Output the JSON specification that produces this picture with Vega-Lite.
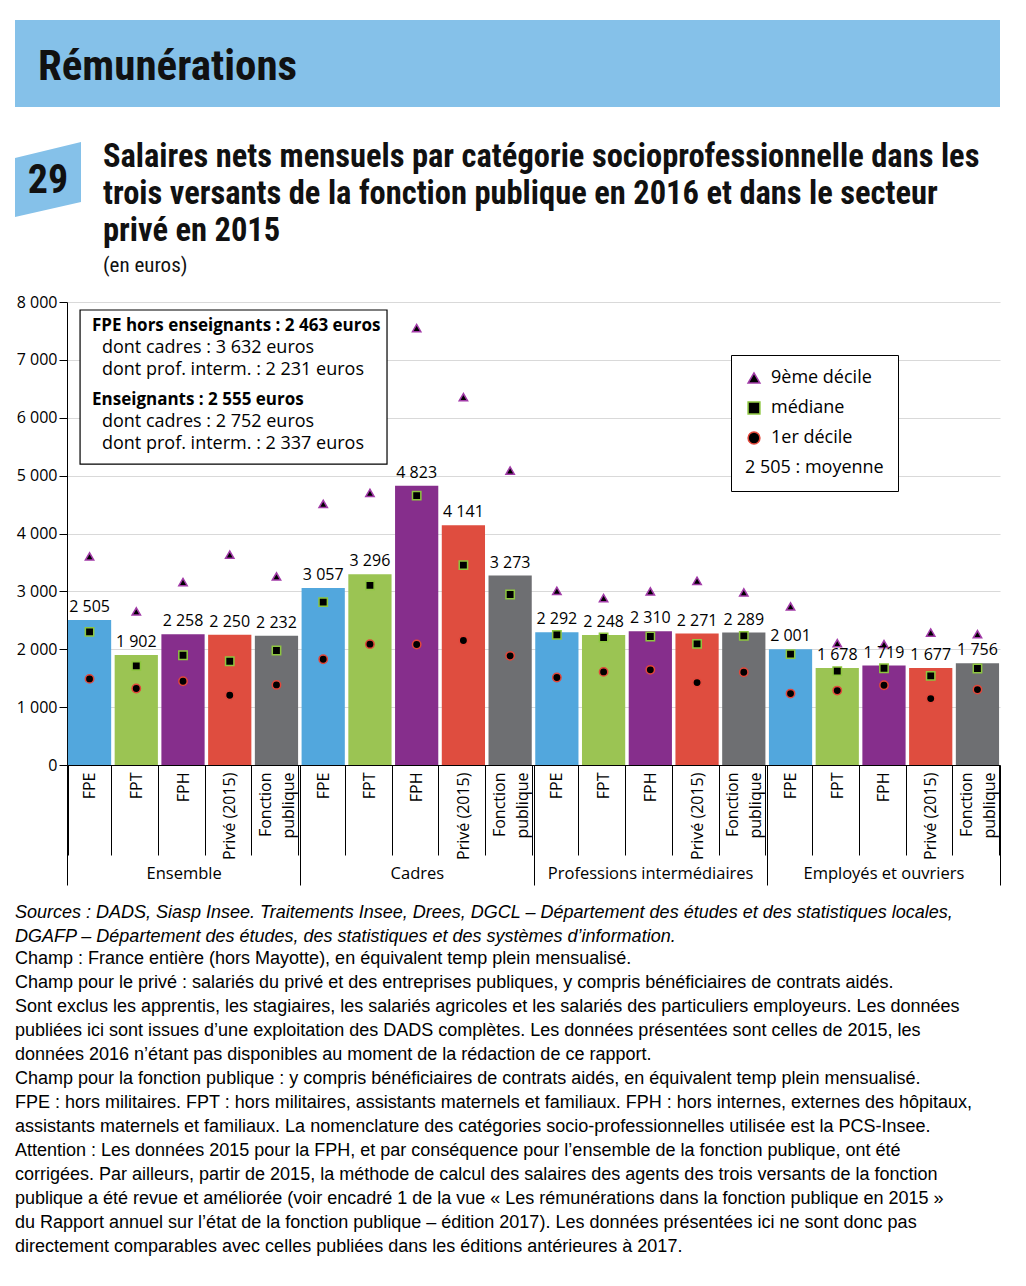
{
  "$schema": "https://vega.github.io/schema/vega-lite/v6.json",
  "background": "white",
  "padding": {"left": 15, "top": 20, "right": 10, "bottom": 5},
  "spacing": 18,
  "config": {
    "font": "Open Sans",
    "view": {"stroke": null},
    "locale": {"number": {"decimal": ",", "thousands": " ", "grouping": [3], "currency": ["", " €"]}},
    "axis": {"labelColor": "black", "labelFontSize": 16, "labelFont": "Open Sans"}
  },
  "datasets": {
    "main": [
      {"id": "Ensemble|FPE", "grp": "Ensemble", "sub": "FPE", "mean": 2505, "d9": 3604, "med": 2301, "d1": 1488},
      {"id": "Ensemble|FPT", "grp": "Ensemble", "sub": "FPT", "mean": 1902, "d9": 2653, "med": 1713, "d1": 1321},
      {"id": "Ensemble|FPH", "grp": "Ensemble", "sub": "FPH", "mean": 2258, "d9": 3160, "med": 1897, "d1": 1447},
      {"id": "Ensemble|Privé (2015)", "grp": "Ensemble", "sub": "Privé (2015)", "mean": 2250, "d9": 3633, "med": 1793, "d1": 1205},
      {"id": "Ensemble|Fonction publique", "grp": "Ensemble", "sub": "Fonction publique", "mean": 2232, "d9": 3258, "med": 1978, "d1": 1384},
      {"id": "Cadres|FPE", "grp": "Cadres", "sub": "FPE", "mean": 3057, "d9": 4510, "med": 2814, "d1": 1828},
      {"id": "Cadres|FPT", "grp": "Cadres", "sub": "FPT", "mean": 3296, "d9": 4700, "med": 3103, "d1": 2088},
      {"id": "Cadres|FPH", "grp": "Cadres", "sub": "FPH", "mean": 4823, "d9": 7549, "med": 4654, "d1": 2082},
      {"id": "Cadres|Privé (2015)", "grp": "Cadres", "sub": "Privé (2015)", "mean": 4141, "d9": 6356, "med": 3454, "d1": 2151},
      {"id": "Cadres|Fonction publique", "grp": "Cadres", "sub": "Fonction publique", "mean": 3273, "d9": 5087, "med": 2947, "d1": 1886},
      {"id": "Professions intermédiaires|FPE", "grp": "Professions intermédiaires", "sub": "FPE", "mean": 2292, "d9": 3010, "med": 2249, "d1": 1511},
      {"id": "Professions intermédiaires|FPT", "grp": "Professions intermédiaires", "sub": "FPT", "mean": 2248, "d9": 2884, "med": 2203, "d1": 1609},
      {"id": "Professions intermédiaires|FPH", "grp": "Professions intermédiaires", "sub": "FPH", "mean": 2310, "d9": 2999, "med": 2220, "d1": 1644},
      {"id": "Professions intermédiaires|Privé (2015)", "grp": "Professions intermédiaires", "sub": "Privé (2015)", "mean": 2271, "d9": 3183, "med": 2093, "d1": 1424},
      {"id": "Professions intermédiaires|Fonction publique", "grp": "Professions intermédiaires", "sub": "Fonction publique", "mean": 2289, "d9": 2982, "med": 2232, "d1": 1603},
      {"id": "Employés et ouvriers|FPE", "grp": "Employés et ouvriers", "sub": "FPE", "mean": 2001, "d9": 2739, "med": 1915, "d1": 1234},
      {"id": "Employés et ouvriers|FPT", "grp": "Employés et ouvriers", "sub": "FPT", "mean": 1678, "d9": 2105, "med": 1621, "d1": 1286},
      {"id": "Employés et ouvriers|FPH", "grp": "Employés et ouvriers", "sub": "FPH", "mean": 1719, "d9": 2088, "med": 1672, "d1": 1378},
      {"id": "Employés et ouvriers|Privé (2015)", "grp": "Employés et ouvriers", "sub": "Privé (2015)", "mean": 1677, "d9": 2289, "med": 1540, "d1": 1148},
      {"id": "Employés et ouvriers|Fonction publique", "grp": "Employés et ouvriers", "sub": "Fonction publique", "mean": 1756, "d9": 2261, "med": 1667, "d1": 1303}
    ]
  },
  "vconcat": [
    {
      "width": 933,
      "height": 255,
      "data": {"values": [{}]},
      "layer": [
        {"mark": {"type": "rect", "x": -52, "x2": 933, "y": 0, "y2": 87, "color": "#85C1E9"}, "encoding": {}},
        {"mark": {"type": "text", "text": "Rémunérations", "x": -29, "y": 47, "align": "left", "baseline": "middle", "font": "Liberation Sans Narrow, Roboto Condensed, DejaVu Sans Condensed, Liberation Sans", "fontWeight": "bold", "fontSize": 43, "color": "#111111"}, "encoding": {}},
        {"mark": {"type": "point", "shape": "M-1,-0.65L1,-1.14L1,0.68L-1,1.14Z", "filled": true, "opacity": 1, "color": "#85C1E9", "size": 4356, "x": -19, "y": 159.5}, "encoding": {}},
        {"mark": {"type": "text", "text": "29", "x": -19, "y": 161, "align": "center", "baseline": "middle", "font": "Liberation Sans Narrow, Roboto Condensed, DejaVu Sans Condensed, Liberation Sans", "fontWeight": "bold", "fontSize": 40, "color": "#111111"}, "encoding": {}},
        {"mark": {"type": "text", "text": ["Salaires nets mensuels par catégorie socioprofessionnelle dans les", "trois versants de la fonction publique en 2016 et dans le secteur", "privé en 2015"], "x": 36, "y": 147, "align": "left", "baseline": "alphabetic", "font": "Liberation Sans Narrow, Roboto Condensed, DejaVu Sans Condensed, Liberation Sans", "fontWeight": "bold", "fontSize": 32.5, "lineHeight": 37, "color": "#111111"}, "encoding": {}},
        {"mark": {"type": "text", "text": "(en euros)", "x": 36, "y": 252, "align": "left", "baseline": "alphabetic", "font": "Liberation Sans Narrow, Roboto Condensed, DejaVu Sans Condensed, Liberation Sans", "fontSize": 21, "color": "#111111"}, "encoding": {}}
      ]
    },
    {
      "width": 933,
      "height": 463,
      "resolve": {"scale": {"x": "independent"}},
      "layer": [
        {
          "data": {"name": "main"},
          "layer": [
            {
              "mark": {"type": "bar"},
              "encoding": {
                "x": {"field": "id", "type": "nominal", "sort": null, "title": null,
                  "scale": {"paddingInner": 0.075, "paddingOuter": 0.02},
                  "axis": {"orient": "bottom", "labelExpr": "split(datum.label, '|')[1] == 'Fonction publique' ? ['Fonction', 'publique'] : split(datum.label, '|')[1]", "labelAngle": 270, "labelAlign": "right", "labelBaseline": "middle", "labelFontSize": 16, "labelLineHeight": 23, "labelOffset": {"condition": {"test": "indexof(datum.label, 'Fonction publique') >= 0", "value": -11}, "value": 0}, "tickBand": "extent", "tickSize": 90, "tickColor": "black", "labelPadding": -83, "domainColor": "black", "labelColor": "black", "labelOverlap": false}},
                "y": {"field": "mean", "type": "quantitative", "title": null,
                  "scale": {"domain": [0, 8000], "nice": false},
                  "axis": {"values": [0, 1000, 2000, 3000, 4000, 5000, 6000, 7000, 8000], "format": ",d", "tickSize": 8, "tickColor": "black", "domainColor": "black", "gridColor": "#d9d9d9", "labelPadding": 2}},
                "color": {"field": "sub", "type": "nominal", "legend": null,
                  "scale": {"domain": ["FPE", "FPT", "FPH", "Privé (2015)", "Fonction publique"], "range": ["#52A7DD", "#9BC453", "#862E8C", "#DF4D3F", "#6E6F72"]}}
              }
            },
            {
              "transform": [{"fold": ["d9", "med", "d1"], "as": ["stat", "value"]}],
              "mark": {"type": "point", "filled": true, "fill": "black", "strokeWidth": 1.5, "opacity": 1, "size": 70},
              "encoding": {
                "x": {"field": "id", "type": "nominal", "sort": null},
                "y": {"field": "value", "type": "quantitative"},
                "shape": {"field": "stat", "type": "nominal", "title": "2 505 : moyenne",
                  "scale": {"domain": ["d9", "med", "d1"], "range": ["triangle-up", "square", "circle"]},
                  "legend": {"orient": "none", "legendX": 664, "legendY": 335, "titleOrient": "bottom", "titleFontWeight": "normal", "titleFontSize": 18, "titleColor": "black", "titleFont": "Open Sans", "titlePadding": 12, "labelFontSize": 18, "labelColor": "black", "labelFont": "Open Sans", "labelExpr": "datum.label == 'd9' ? '9ème décile' : datum.label == 'med' ? 'médiane' : '1er décile'", "symbolSize": 140, "symbolFillColor": "black", "symbolStrokeWidth": 1.5, "rowPadding": 12, "padding": 14, "strokeColor": "black", "fillColor": "white", "labelOffset": 8}},
                "stroke": {"field": "stat", "type": "nominal", "title": "2 505 : moyenne",
                  "scale": {"domain": ["d9", "med", "d1"], "range": ["#A23BA8", "#8DC63F", "#E2473A"]},
                  "legend": {"orient": "none", "legendX": 664, "legendY": 335, "titleOrient": "bottom", "titleFontWeight": "normal", "titleFontSize": 18, "titleColor": "black", "titleFont": "Open Sans", "titlePadding": 12, "labelFontSize": 18, "labelColor": "black", "labelFont": "Open Sans", "labelExpr": "datum.label == 'd9' ? '9ème décile' : datum.label == 'med' ? 'médiane' : '1er décile'", "symbolSize": 140, "symbolFillColor": "black", "symbolStrokeWidth": 1.5, "rowPadding": 12, "padding": 14, "strokeColor": "black", "fillColor": "white", "labelOffset": 8}}
              }
            },
            {
              "mark": {"type": "text", "baseline": "middle", "dy": -13, "fontSize": 16, "color": "black"},
              "encoding": {
                "x": {"field": "id", "type": "nominal", "sort": null},
                "y": {"field": "mean", "type": "quantitative"},
                "text": {"field": "mean", "type": "quantitative", "format": ",d"}
              }
            }
          ]
        },
        {
          "data": {"values": [{}]},
          "layer": [
            {
              "mark": {"type": "rect", "fill": "white", "stroke": "black", "strokeWidth": 1.2},
              "encoding": {
                "x": {"datum": 0.28, "type": "quantitative", "title": null,
                  "scale": {"domain": [0, 20], "nice": false, "zero": false},
                  "axis": {"orient": "bottom", "values": [0, 2.5, 5, 7.5, 10, 12.5, 15, 17.5, 20], "labelExpr": "datum.value == 2.5 ? 'Ensemble' : datum.value == 7.5 ? 'Cadres' : datum.value == 12.5 ? 'Professions intermédiaires' : datum.value == 17.5 ? 'Employés et ouvriers' : ''", "tickSize": 120, "tickColor": "black", "tickOpacity": {"condition": {"test": "datum.value % 5 === 0", "value": 1}, "value": 0}, "domain": false, "grid": false, "labelPadding": -20, "labelFontSize": 16.5, "labelColor": "black", "labelFlush": false, "labelOverlap": false, "labelLimit": 400}},
                "x2": {"datum": 6.86},
                "y": {"datum": 7862, "type": "quantitative"},
                "y2": {"datum": 5200}
              }
            },
            {
              "mark": {"type": "text", "text": "FPE hors enseignants : 2 463 euros", "align": "left", "baseline": "middle", "fontWeight": "bold", "fontSize": 17, "color": "black"},
              "encoding": {"x": {"datum": 0.536, "type": "quantitative"}, "y": {"datum": 7585, "type": "quantitative"}}
            },
            {
              "mark": {"type": "text", "text": "dont cadres : 3 632 euros", "align": "left", "baseline": "middle", "fontSize": 18, "color": "black"},
              "encoding": {"x": {"datum": 0.75, "type": "quantitative"}, "y": {"datum": 7205, "type": "quantitative"}}
            },
            {
              "mark": {"type": "text", "text": "dont prof. interm. : 2 231 euros", "align": "left", "baseline": "middle", "fontSize": 18, "color": "black"},
              "encoding": {"x": {"datum": 0.75, "type": "quantitative"}, "y": {"datum": 6825, "type": "quantitative"}}
            },
            {
              "mark": {"type": "text", "text": "Enseignants : 2 555 euros", "align": "left", "baseline": "middle", "fontWeight": "bold", "fontSize": 17, "color": "black"},
              "encoding": {"x": {"datum": 0.536, "type": "quantitative"}, "y": {"datum": 6307, "type": "quantitative"}}
            },
            {
              "mark": {"type": "text", "text": "dont cadres : 2 752 euros", "align": "left", "baseline": "middle", "fontSize": 18, "color": "black"},
              "encoding": {"x": {"datum": 0.75, "type": "quantitative"}, "y": {"datum": 5927, "type": "quantitative"}}
            },
            {
              "mark": {"type": "text", "text": "dont prof. interm. : 2 337 euros", "align": "left", "baseline": "middle", "fontSize": 18, "color": "black"},
              "encoding": {"x": {"datum": 0.75, "type": "quantitative"}, "y": {"datum": 5547, "type": "quantitative"}}
            }
          ]
        }
      ]
    },
    {
      "width": 933,
      "height": 1,
      "data": {"values": []},
      "mark": {"type": "point"},
      "encoding": {},
      "title": {
        "text": ["Sources : DADS, Siasp Insee. Traitements Insee, Drees,  DGCL – Département des études et des statistiques locales,", "DGAFP – Département des études, des statistiques et des systèmes d’information."],
        "subtitle": [
          "Champ : France entière (hors Mayotte), en équivalent temp plein mensualisé.",
          "Champ pour le privé : salariés du privé et des entreprises publiques, y compris bénéficiaires de contrats aidés.",
          "Sont exclus les apprentis, les stagiaires, les salariés agricoles et les salariés des particuliers employeurs. Les données",
          "publiées ici sont issues d’une exploitation des DADS complètes. Les données présentées sont celles de 2015, les",
          "données 2016 n’étant pas disponibles au moment de la rédaction de ce rapport.",
          "Champ pour la fonction publique : y compris bénéficiaires de contrats aidés, en équivalent temp plein mensualisé.",
          "FPE : hors militaires. FPT : hors militaires, assistants maternels et familiaux. FPH : hors internes, externes des hôpitaux,",
          "assistants maternels et familiaux. La nomenclature des catégories socio-professionnelles utilisée est la PCS-Insee.",
          "Attention : Les données 2015 pour la FPH, et par conséquence pour l’ensemble de la fonction publique, ont été",
          "corrigées. Par ailleurs, partir de 2015, la méthode de calcul des salaires des agents des trois versants de la fonction",
          "publique a été revue et améliorée (voir encadré 1 de la vue « Les rémunérations dans la fonction publique en 2015 »",
          "du Rapport annuel sur l’état de la fonction publique – édition 2017). Les données présentées ici ne sont donc pas",
          "directement comparables avec celles publiées dans les éditions antérieures à 2017."
        ],
        "anchor": "start",
        "frame": "group",
        "dx": -52,
        "offset": 0,
        "font": "Liberation Sans",
        "fontSize": 18,
        "fontStyle": "italic",
        "fontWeight": "normal",
        "color": "black",
        "lineHeight": 24,
        "subtitleFont": "Liberation Sans",
        "subtitleFontSize": 18,
        "subtitleColor": "black",
        "subtitleLineHeight": 24,
        "subtitlePadding": 4
      }
    }
  ]
}
